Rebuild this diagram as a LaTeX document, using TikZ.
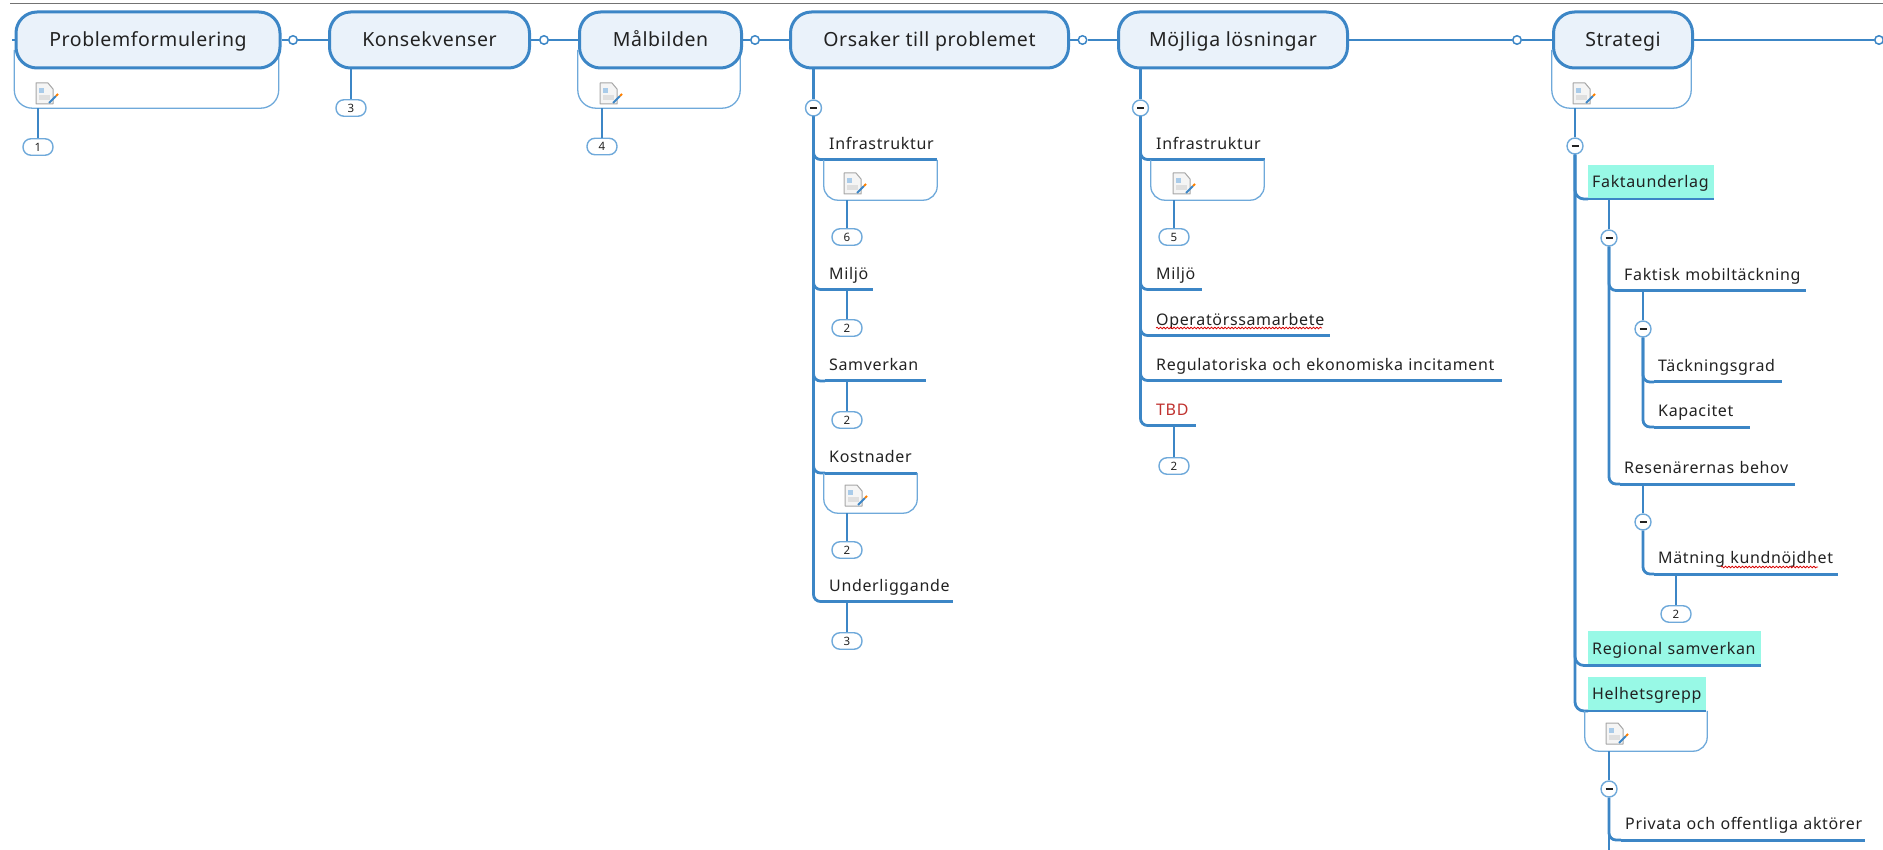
\documentclass[tikz,border=0pt]{standalone}
\usepackage{fontspec}
\setmainfont{Noto Sans}
\newfontfamily\subfont[LetterSpace=4]{Noto Sans}
\newfontfamily\topfont[LetterSpace=3]{Noto Sans}
\usetikzlibrary{decorations.pathmorphing}
\definecolor{mblue}{HTML}{3C86C6}
\definecolor{lblue}{HTML}{6FA9DA}
\definecolor{tfill}{HTML}{EAF2FA}
\definecolor{hl}{HTML}{98F9E6}
\definecolor{ink}{HTML}{222222}
\definecolor{tbdred}{HTML}{C0322F}
\tikzset{
 topic/.style={draw=mblue,line width=3pt,fill=tfill,rounded corners=21pt,minimum height=56pt,inner sep=0pt,text height=14pt,text depth=0pt,font=\topfont\fontsize{19.5}{20}\selectfont,text=ink,anchor=west},
 wire/.style={draw=mblue,line width=2.8pt},
 thick wire/.style={draw=mblue,line width=3pt},
 notebox/.style={draw=lblue,line width=1.3pt},
 hole/.style={circle,draw=mblue,line width=1pt,fill=white,minimum size=9pt,inner sep=0pt},
 fold/.style={circle,draw=lblue,line width=1.4pt,fill=white,minimum size=16pt,inner sep=0pt},
 tag/.style={draw=lblue,line width=1.4pt,fill=white,rounded corners=8pt,minimum width=30pt,minimum height=16.5pt,inner sep=0pt,font=\fontsize{11.5}{12}\selectfont,text=ink},
 subt/.style={anchor=south west,minimum height=30pt,inner xsep=4pt,inner ysep=0pt,align=left,text height=10pt,text depth=0pt,font=\subfont\fontsize{16}{18}\selectfont,text=ink},
 mark fill/.style={fill=hl,minimum height=34pt,text height=12pt},
 squig/.style={draw=red!85!black,line width=.8pt,decorate,decoration={snake,amplitude=.8pt,segment length=3.4pt}},
 noteicon/.pic={
  \draw[draw=gray!70,fill=gray!8,line width=1pt,line join=round] (0,0) -- (12,0) -- (17,6) -- (17,21) -- (0,21) -- cycle;
  \fill[lblue!60] (3,5) rectangle (8,10);
  \fill[gray!25] (3,12) rectangle (14,17);
  \draw[mblue,line width=2pt] (13,20) -- (20,13);
  \draw[orange,line width=2pt] (20,13) -- (22,11);
 }
}
\newcommand{\subtopic}[6][]{% opts, name, left, right, line y, text
 \node[subt,#1,text width=#4pt-#3pt-8pt] (#2) at (#3,#5) {\mbox{#6}};}
\newcommand{\fold}[3]{\node[fold] (#1) at (#2,#3) {};
 \draw[line width=1.2pt,ink] (#2-3.5,#3) -- (#2+3.5,#3);}
\begin{document}
\begin{tikzpicture}[x=1pt,y=-1pt]
\useasboundingbox (0,0) rectangle (1883,850);
\draw[gray!90!black,line width=1pt] (10,4) -- (1883,4);
\coordinate (lstart) at (12,40);
% main line
\node[hole] (h1) at (293,40) {};
\node[hole] (h2) at (544,40) {};
\node[hole] (h3) at (755,40) {};
\node[hole] (h4) at (1082.5,40) {};
\node[hole] (h5) at (1517,40) {};
\node[hole] (h6) at (1879,40) {};
% note boxes under topics
\node (n1) at (146.5,79) [minimum width=264pt,minimum height=58pt,inner sep=0pt] {};
\node (n2) at (659,79) [minimum width=162pt,minimum height=58pt,inner sep=0pt] {};
\node (n3) at (1621.5,79) [minimum width=139pt,minimum height=58pt,inner sep=0pt] {};
\foreach \n in {n1,n2,n3}{
 \draw[notebox,rounded corners=18pt] (\n.north west) -- (\n.south west) -- (\n.south east) -- (\n.north east);}
% topics
\node[topic,minimum width=264pt] (t1) at (14.5,40) {Problemformulering};
\node[topic,minimum width=200pt] (t2) at (328,40) {Konsekvenser};
\node[topic,minimum width=162pt] (t3) at (578,40) {Målbilden};
\node[topic,minimum width=278pt] (t4) at (789,40) {Orsaker till problemet};
\node[topic,minimum width=229pt] (t5) at (1117,40) {Möjliga lösningar};
\node[topic,minimum width=139pt] (t6) at (1552,40) {Strategi};
\draw[wire] (lstart) -- (t1.west);
\draw[wire] (t1.east) -- (h1); \draw[wire] (h1) -- (t2.west);
\draw[wire] (t2.east) -- (h2); \draw[wire] (h2) -- (t3.west);
\draw[wire] (t3.east) -- (h3); \draw[wire] (h3) -- (t4.west);
\draw[wire] (t4.east) -- (h4); \draw[wire] (h4) -- (t5.west);
\draw[wire] (t5.east) -- (h5); \draw[wire] (h5) -- (t6.west);
\draw[wire] (t6.east) -- (h6);
% redraw of holes above wires
\foreach \h in {h1,h2,h3,h4,h5,h6}{\fill[white] (\h) circle (3.5pt); \draw[mblue,line width=1pt] (\h) circle (4pt);}
% tags for topics
\node[tag] (g1) at (38,147) {1};
\node[tag] (g3) at (351,108) {3};
\node[tag] (g4) at (602,146.5) {4};
\draw[wire] (g1.north |- n1.south) -- (g1.north);
\draw[wire] (g3.north |- t2.south) -- (g3.north);
\draw[wire] (g4.north |- n2.south) -- (g4.north);
\pic at (36,83) {noteicon};
\pic at (600,83) {noteicon};
\pic at (1573,83) {noteicon};

% ---------- Orsaker ----------
\coordinate (o0) at (813.5,68);
\fold{of}{813.5}{108}
\subtopic{oa}{825}{937}{159.5}{Infrastruktur}
\subtopic{ob}{825}{873}{289.5}{Miljö}
\subtopic{oc}{825}{926}{381}{Samverkan}
\subtopic{od}{825}{917}{473}{Kostnader}
\subtopic{oe}{825}{953}{601.5}{Underliggande}
\draw[wire] (o0) -- (of.north);
\foreach \s in {oa,ob,oc,od,oe}{
 \draw[wire,rounded corners=7pt] (of.south) |- (\s.south west);
 \draw[thick wire] (\s.south west) -- (\s.south east);}
\node (ona) at (880.5,180) [minimum width=113pt,minimum height=40pt,inner sep=0pt] {};
\node (ond) at (870.5,493) [minimum width=93pt,minimum height=40pt,inner sep=0pt] {};
\foreach \n in {ona,ond}{
 \draw[notebox,rounded corners=14pt] (\n.north west) -- (\n.south west) -- (\n.south east) -- (\n.north east);}
\pic at (844,173) {noteicon};
\pic at (845,485) {noteicon};
\node[tag] (og6) at (847,237) {6};
\node[tag] (og2a) at (847,328) {2};
\node[tag] (og2b) at (847,420) {2};
\node[tag] (og2c) at (847,550) {2};
\node[tag] (og3) at (847,641) {3};
\draw[wire] (og6.north |- ona.south) -- (og6.north);
\draw[wire] (og2a.north |- ob.south) -- (og2a.north);
\draw[wire] (og2b.north |- oc.south) -- (og2b.north);
\draw[wire] (og2c.north |- ond.south) -- (og2c.north);
\draw[wire] (og3.north |- oe.south) -- (og3.north);

% ---------- Möjliga ----------
\coordinate (m0) at (1140.5,68);
\fold{mf}{1140.5}{108}
\subtopic{ma}{1152}{1265}{159.5}{Infrastruktur}
\subtopic{mb}{1152}{1202}{289.5}{Miljö}
\subtopic{mc}{1152}{1330}{335.5}{Operatörssamarbete}
\subtopic{md}{1152}{1502}{380.5}{Regulatoriska och ekonomiska incitament}
\subtopic[text=tbdred]{me}{1152}{1196}{425.5}{TBD}
\draw[wire] (m0) -- (mf.north);
\foreach \s in {ma,mb,mc,md,me}{
 \draw[wire,rounded corners=7pt] (mf.south) |- (\s.south west);
 \draw[thick wire] (\s.south west) -- (\s.south east);}
\node (mna) at (1207.5,180) [minimum width=113pt,minimum height=40pt,inner sep=0pt] {};
\draw[notebox,rounded corners=14pt] (mna.north west) -- (mna.south west) -- (mna.south east) -- (mna.north east);
\pic at (1173,173) {noteicon};
\node[tag] (mg5) at (1174,237) {5};
\node[tag] (mg2) at (1174,466) {2};
\draw[wire] (mg5.north |- mna.south) -- (mg5.north);
\draw[wire] (mg2.north |- me.south) -- (mg2.north);
\draw[squig] (1156,328) -- (1322,328);

% ---------- Strategi ----------
\coordinate (s0) at (1575,108);
\fold{sf}{1575}{146}
\subtopic[mark fill]{fa}{1588}{1714}{199}{Faktaunderlag}
\subtopic[mark fill]{re}{1588}{1761}{665.5}{Regional samverkan}
\subtopic[mark fill]{he}{1588}{1706}{711}{Helhetsgrepp}
\draw[wire] (s0) -- (sf.north);
\foreach \s in {fa,re,he}{
 \draw[wire,rounded corners=9pt] (sf.south) |- (\s.south west);
 \draw[wire] (\s.south west) -- (\s.south east);}
\draw[thick wire] (re.south west) -- (re.south east);
\node (hn) at (1646,731) [minimum width=122pt,minimum height=40pt,inner sep=0pt] {};
\draw[notebox,rounded corners=14pt] (hn.north west) -- (hn.south west) -- (hn.south east) -- (hn.north east);
\pic at (1606,723) {noteicon};

\fold{ff}{1609}{238}
\subtopic{f1}{1620}{1806}{290.5}{Faktisk mobiltäckning}
\subtopic{f2}{1620}{1795}{484}{Resenärernas behov}
\draw[wire] (ff.north |- fa.south) -- (ff.north);
\foreach \s in {f1,f2}{
 \draw[wire,rounded corners=7pt] (ff.south) |- (\s.south west);
 \draw[thick wire] (\s.south west) -- (\s.south east);}

\fold{gf}{1643}{329}
\subtopic{g1s}{1654}{1782}{382}{Täckningsgrad}
\subtopic{g2s}{1654}{1750}{427}{Kapacitet}
\draw[wire] (gf.north |- f1.south) -- (gf.north);
\foreach \s in {g1s,g2s}{
 \draw[wire,rounded corners=7pt] (gf.south) |- (\s.south west);
 \draw[thick wire] (\s.south west) -- (\s.south east);}

\fold{kf}{1643}{522}
\subtopic{k1}{1654}{1838}{574}{Mätning kundnöjdhet}
\draw[wire] (kf.north |- f2.south) -- (kf.north);
\draw[wire,rounded corners=7pt] (kf.south) |- (k1.south west);
\draw[thick wire] (k1.south west) -- (k1.south east);
\node[tag] (kg) at (1676,614) {2};
\draw[wire] (kg.north |- k1.south) -- (kg.north);
\draw[squig] (1721,567) -- (1818,567);

\fold{pf}{1609}{789}
\subtopic{p1}{1621}{1865}{840}{Privata och offentliga aktörer}
\coordinate (pend) at (1609,850);
\draw[wire] (pf.north |- hn.south) -- (pf.north);
\draw[wire,rounded corners=7pt] (pf.south) |- (p1.south west);
\draw[wire] (pf.south) -- (pend);
\draw[thick wire] (p1.south west) -- (p1.south east);
\end{tikzpicture}
\end{document}
